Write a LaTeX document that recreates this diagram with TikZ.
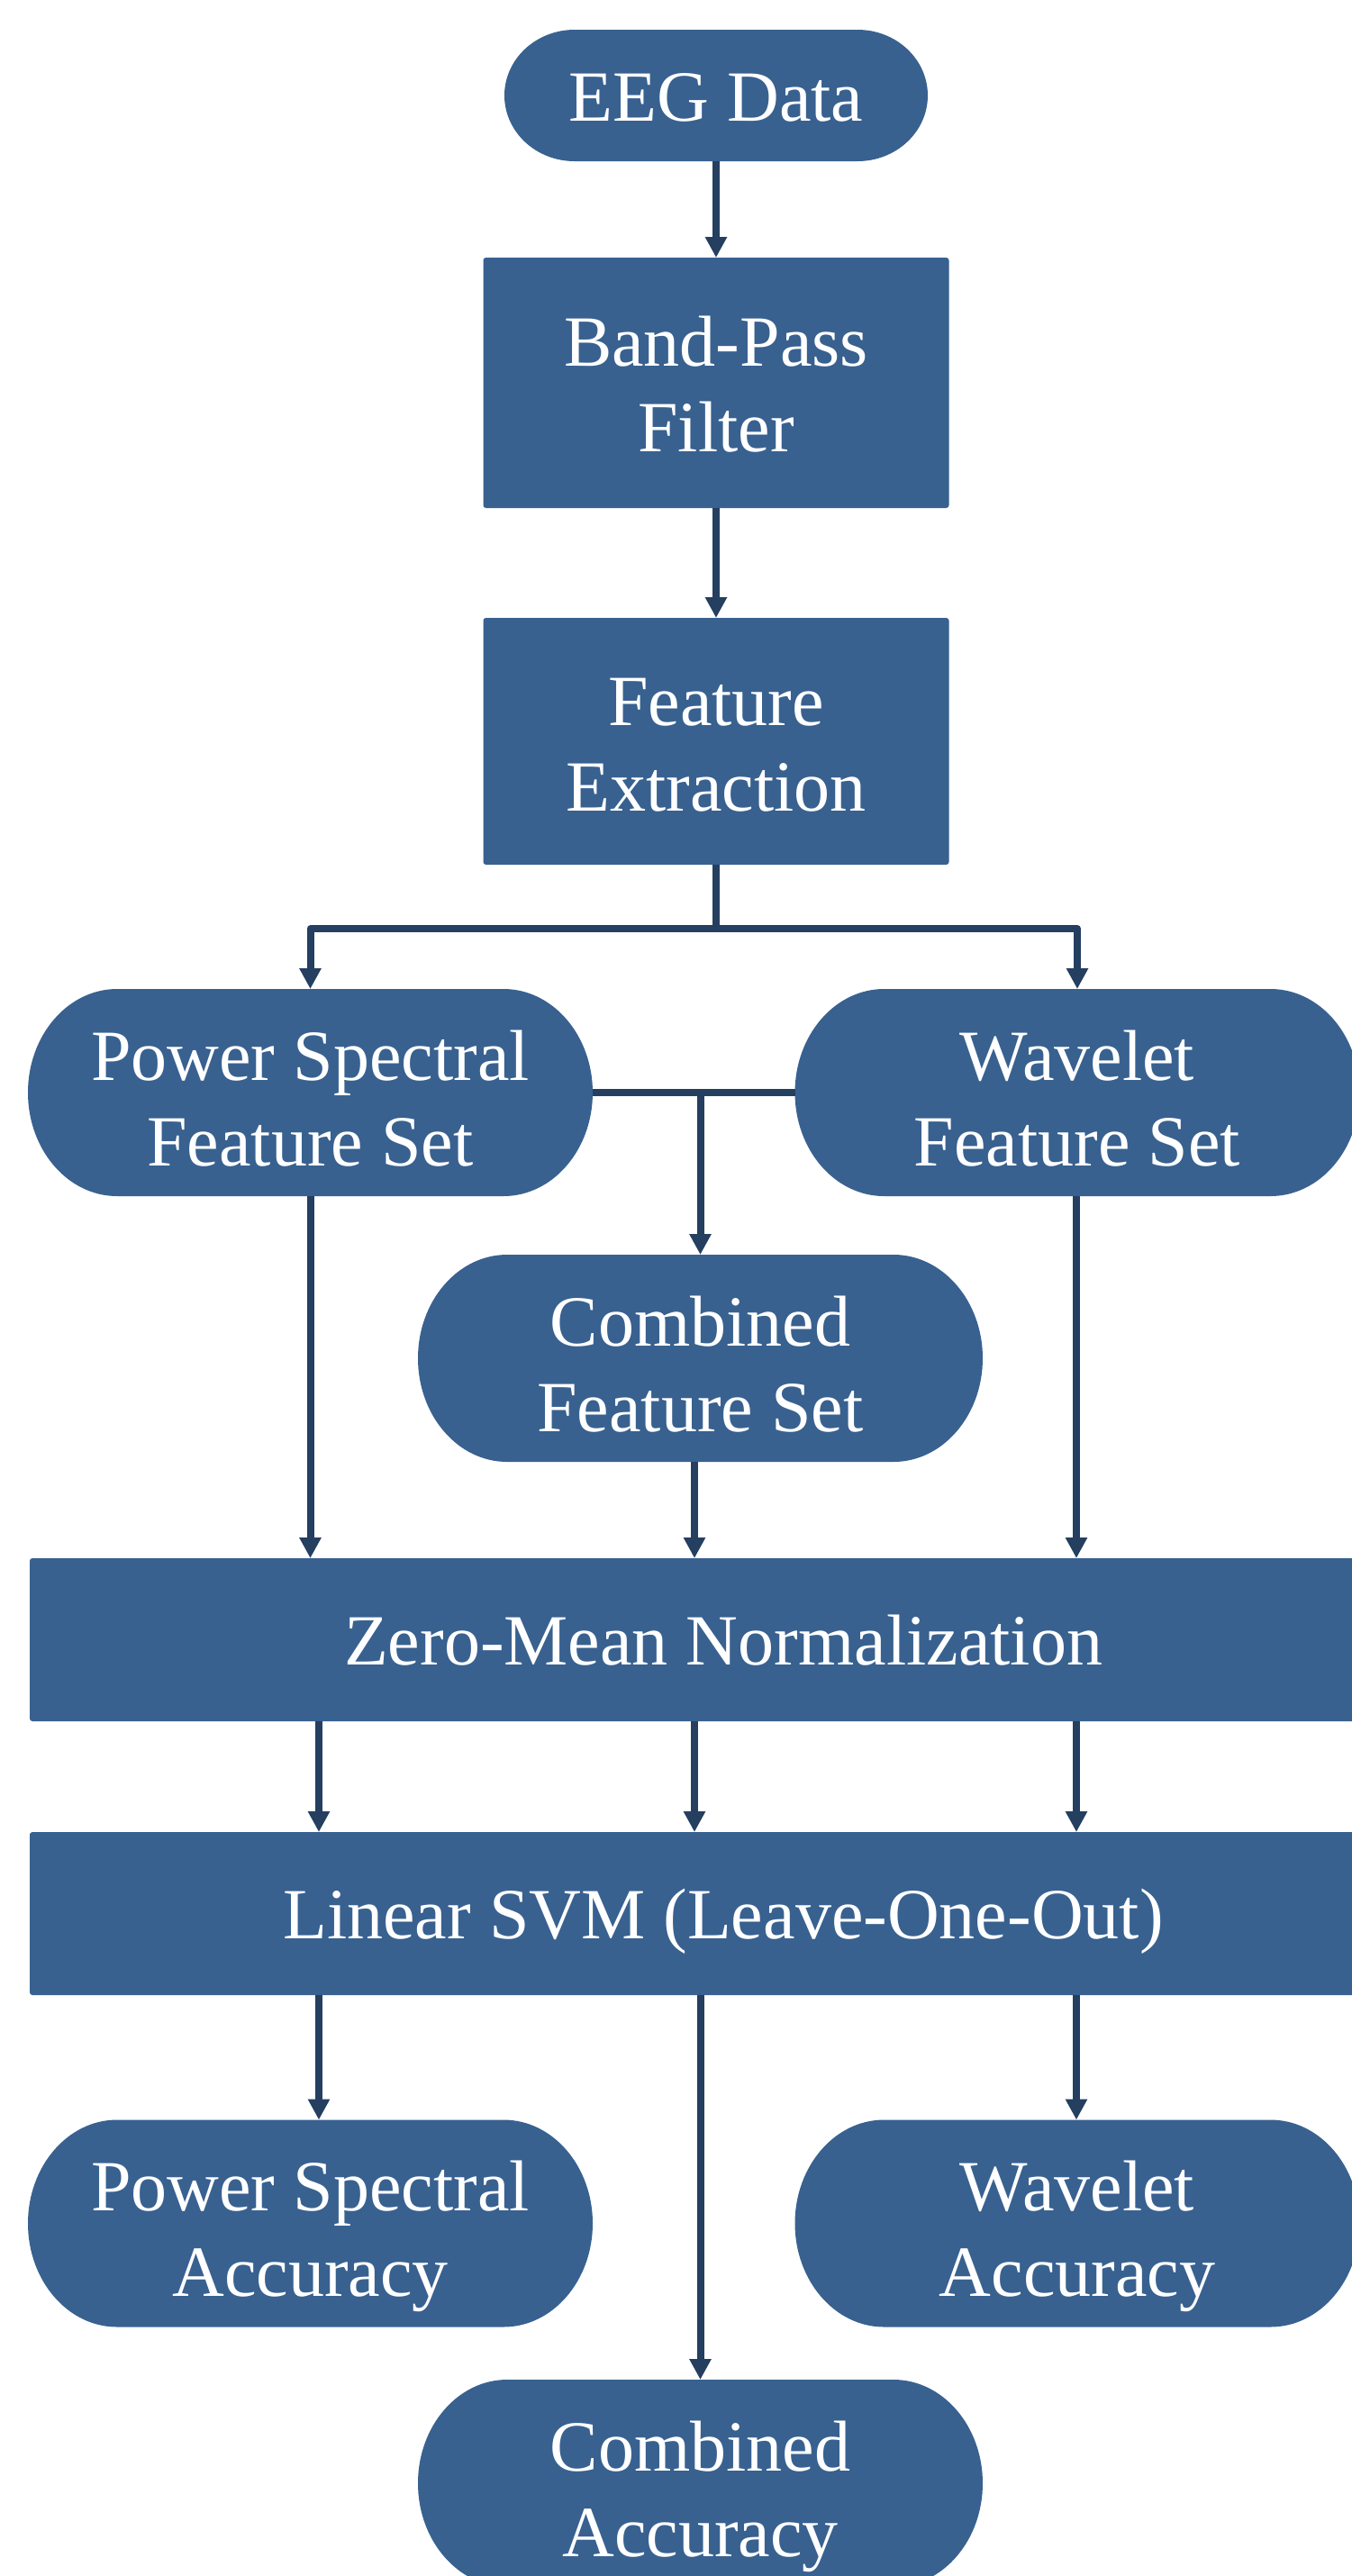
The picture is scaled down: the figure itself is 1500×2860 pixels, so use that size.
\documentclass[tikz,border=0pt]{standalone}
\usepackage{fontspec}
\setmainfont{Liberation Serif}
\usetikzlibrary{arrows.meta,calc,backgrounds}
\definecolor{boxfill}{HTML}{386190}
\definecolor{arrowc}{HTML}{243F60}
\newcommand\twol[3]{\raisebox{#1}[0pt][0pt]{\begin{tabular}[t]{@{}c@{}}#2\\#3\end{tabular}}}
\newcommand\onel[1]{\raisebox{-28pt}[0pt][0pt]{#1}}
\newcommand\stadium[2]{%
  \fill[boxfill] let \p1=(#1.north west), \p2=(#1.south east), \n1={(\y1-\y2)/2} in
    (\x1+#2pt,\y1) -- (\x2-#2pt,\y1)
    arc[start angle=90,end angle=-90,x radius=#2pt,y radius=\n1]
    -- (\x1+#2pt,\y2)
    arc[start angle=270,end angle=90,x radius=#2pt,y radius=\n1] -- cycle;}
\tikzset{
  base/.style={inner sep=0pt, outer sep=0pt, text=white, font=\fontsize{80}{95}\selectfont},
  proc/.style={base, rectangle, fill=boxfill, rounded corners=3pt},
  term/.style={base, rectangle, minimum width=627pt, minimum height=230pt},
  line/.style={draw=arrowc, line width=8pt, line join=round},
  arr/.style={line, -{Triangle[length=23pt,width=23pt]}}
}
\begin{document}
\begin{tikzpicture}[x=1pt,y=-1pt]
\useasboundingbox (0,0) rectangle (1500,2860);
% nodes
\node[base, minimum width=470pt, minimum height=146pt] (eeg) at (795,106) {\onel{EEG Data}};
\node[proc, minimum width=517pt, minimum height=278pt] (bp) at (795,425) {\twol{19pt}{Band-Pass}{Filter}};
\node[proc, minimum width=517pt, minimum height=274pt] (fe) at (795,823) {\twol{18pt}{Feature}{Extraction}};
\node[term] (psf) at (344.5,1213) {\twol{14pt}{Power Spectral}{Feature Set}};
\node[term] (wfs) at (1196,1213) {\twol{14pt}{Wavelet}{Feature Set}};
\node[term] (cfs) at (777.5,1508) {\twol{14pt}{Combined}{Feature Set}};
\node[proc, minimum width=1540pt, minimum height=181pt] (zm) at (803,1820.5) {\onel{Zero-Mean Normalization}};
\node[proc, minimum width=1540pt, minimum height=181pt] (svm) at (803,2124.5) {\onel{Linear SVM (Leave-One-Out)}};
\node[term] (psa) at (344.5,2468.5) {\twol{14pt}{Power Spectral}{Accuracy}};
\node[term] (wa) at (1196,2468.5) {\twol{14pt}{Wavelet}{Accuracy}};
\node[term] (ca) at (777.5,2757) {\twol{14pt}{Combined}{Accuracy}};
% rounded shapes behind text
\begin{scope}[on background layer]
  \stadium{eeg}{78}
  \stadium{psf}{99}
  \stadium{wfs}{99}
  \stadium{cfs}{99}
  \stadium{psa}{99}
  \stadium{wa}{99}
  \stadium{ca}{99}
\end{scope}
% helper coordinates
\coordinate (br) at (795,1031);
\coordinate (cL) at (354,0);
\coordinate (cM) at (771,0);
\coordinate (cR) at (1195,0);
% connectors
\draw[arr] (eeg.south) -- (bp.north);
\draw[arr] (bp.south) -- (fe.north);
\draw[line] (fe.south) -- (br);
\draw[arr] (br) -| (psf.north);
\draw[arr] (br) -| (wfs.north);
\draw[line] (psf.east) -- (wfs.west);
\draw[arr] (cfs.north |- psf.east) -- (cfs.north);
\draw[arr] (psf.south) -- (psf.south |- zm.north);
\draw[arr] (cM |- cfs.south) -- (cM |- zm.north);
\draw[arr] (cR |- wfs.south) -- (cR |- zm.north);
\draw[arr] (cL |- zm.south) -- (cL |- svm.north);
\draw[arr] (cM |- zm.south) -- (cM |- svm.north);
\draw[arr] (cR |- zm.south) -- (cR |- svm.north);
\draw[arr] (cL |- svm.south) -- (cL |- psa.north);
\draw[arr] (ca.north |- svm.south) -- (ca.north);
\draw[arr] (cR |- svm.south) -- (cR |- wa.north);
\end{tikzpicture}
\end{document}
